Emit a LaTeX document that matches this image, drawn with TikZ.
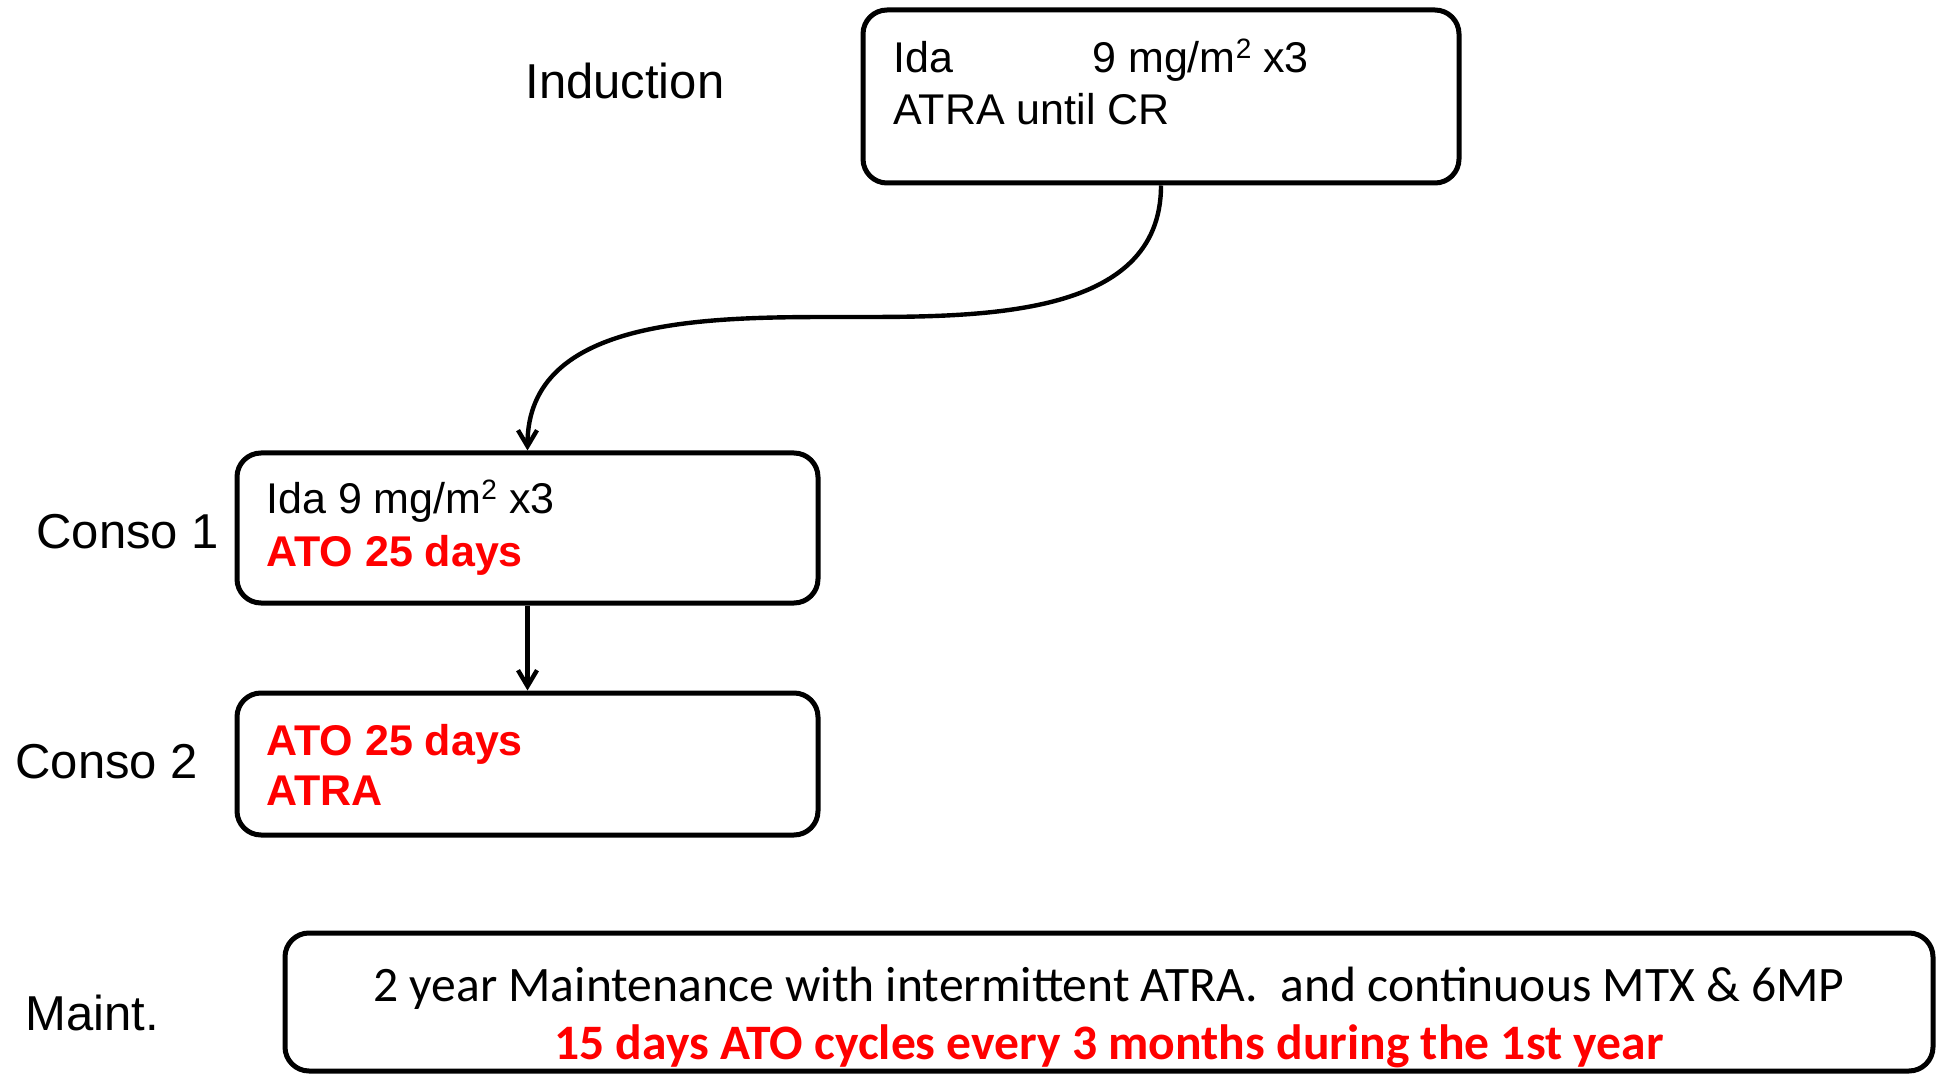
\documentclass[tikz,border=0pt]{standalone}
\usepackage{fontspec}
\setmainfont{Liberation Sans}
\newfontfamily\calibrifont{Carlito}
\usetikzlibrary{arrows.meta}
\definecolor{doseRed}{RGB}{255,0,0}
% small raised "2" for m squared
\newcommand{\sqsup}{\raisebox{7pt}{\fontsize{14pt}{14pt}\selectfont 2}}
\begin{document}
\begin{tikzpicture}[x=0.5pt,y=-0.5pt,
  box/.style={draw, line width=2.5pt, rounded corners=12pt, inner sep=0pt},
  phase/.style={anchor=base west, inner sep=0pt, font=\fontsize{24.5pt}{29pt}\selectfont},
  drug/.style={anchor=base west, inner sep=0pt, font=\fontsize{21.5pt}{26pt}\selectfont},
  hot/.style={anchor=base west, inner sep=0pt, text=doseRed, font=\fontsize{21.5pt}{26pt}\selectfont\bfseries},
  flow/.style={-{Straight Barb[length=8pt,width=9.5pt]}, line width=2.2pt},
  plan/.style={anchor=base, inner sep=0pt, font=\fontsize{24.8pt}{30pt}\calibrifont},
  planhot/.style={anchor=base, inner sep=0pt, text=doseRed, font=\fontsize{24.8pt}{30pt}\calibrifont\bfseries}
]
\useasboundingbox (0,0) rectangle (1937,1074);
\fill[white] (0,0) rectangle (1937,1074);

% treatment phase boxes
\node[box, minimum width=298pt, minimum height=86.5pt] (ind) at (1161,96.5) {};
\node[box, minimum width=290.5pt, minimum height=75pt] (c1) at (527.5,528) {};
\node[box, minimum width=290.5pt, minimum height=71pt] (c2) at (527.5,764) {};
\node[box, minimum width=824pt, minimum height=69pt] (mt) at (1109,1002) {};

% phase names
\node[phase] (lind) at (525,99) {Induction};
\node[phase] (lc1) at (36,548) {Conso 1};
\node[phase] (lc2) at (15,778) {Conso 2};
\node[phase] (lmt) at (25,1030) {Maint.};

% induction regimen
\node[drug] (ind1) at (893,73) {\makebox[99.5pt][l]{Ida}9 mg/m\sqsup{} x3};
\node[drug] (ind2) at (893,125) {ATRA until CR};

% consolidation 1
\node[drug] (c1a) at (266,514) {Ida 9 mg/m\sqsup{} x3};
\node[hot] (c1b) at (266,567) {ATO 25 days};

% consolidation 2
\node[hot] (c2a) at (266,755) {ATO 25 days};
\node[hot] (c2b) at (266,805) {ATRA};

% maintenance
\node[plan] (mt1) at (1109,1001) {2 year Maintenance with intermittent ATRA.\ \ and continuous MTX \& 6MP};
\node[planhot] (mt2) at (1109,1059) {15 days ATO cycles every 3 months during the 1st year};

% sequence arrows
\coordinate (bend) at (844,317);
\draw[flow] (ind.south) to[out=-90,in=0] (bend) to[out=180,in=90] (c1.north);
\draw[flow] (c1.south) -- (c2.north);
\end{tikzpicture}
\end{document}
